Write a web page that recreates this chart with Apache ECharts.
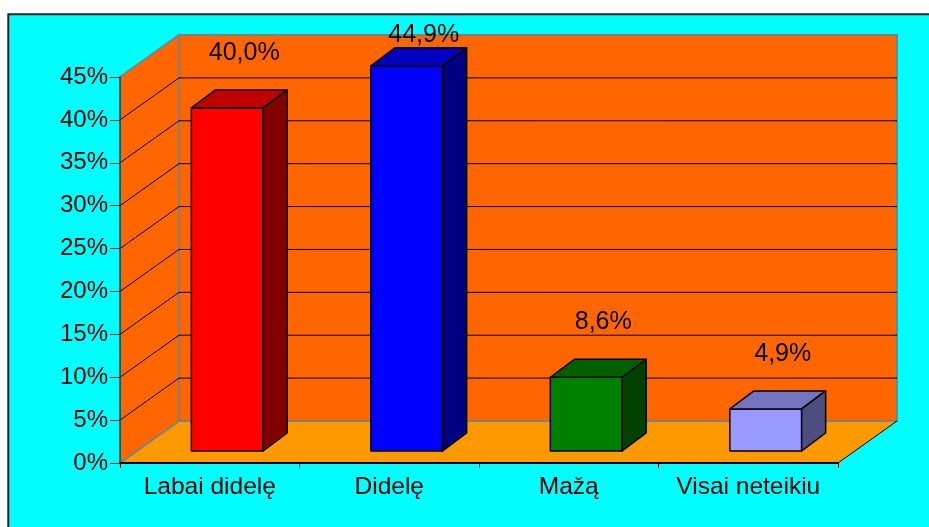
<!DOCTYPE html>
<html>
<head>
<meta charset="utf-8">
<script src="https://cdn.jsdelivr.net/npm/echarts@6/dist/echarts.min.js"></script>
<style>
html,body{margin:0;padding:0;background:#ffffff;}
#chart{width:929px;height:527px;}
</style>
</head>
<body>
<div id="chart"></div>
<script>
// ---- data ----
const categories = ['Labai didelę', 'Didelę', 'Mažą', 'Visai neteikiu'];
const values = [40.0, 44.9, 8.6, 4.9];
const yTicks = [0, 5, 10, 15, 20, 25, 30, 35, 40, 45];

// ---- styles ----
const frontColors = ['#FF0000', '#0000FF', '#008000', '#9999FF'];
const topColors   = ['#C00000', '#0000C0', '#006000', '#7373BF'];
const sideColors  = ['#800000', '#000080', '#004000', '#4D4D80'];
const FONT = 'Liberation Sans, Arial, sans-serif';
const WALL_DX = 59, WALL_DY = -42;     // wall depth
const BAR_OFF_X = 17.5, BAR_OFF_Y = -12; // bar position inside depth
const BAR_DX = 24, BAR_DY = -18;        // bar depth
const yMax = yTicks[yTicks.length - 1];
const yStep = yTicks[1] - yTicks[0];

function fmt(v) { return v.toFixed(1).replace('.', ',') + '%'; }

function renderBackground(params, api) {
  const cs = params.coordSys;
  const x0 = cs.x, x1 = cs.x + cs.width, yt = cs.y, yb = cs.y + cs.height;
  const children = [];
  children.push({type: 'polygon', shape: {points: [[x0, yb], [x1, yb], [x1 + WALL_DX, yb + WALL_DY], [x0 + WALL_DX, yb + WALL_DY]]},
    style: {fill: '#FF9900', stroke: null}});
  children.push({type: 'polygon', shape: {points: [[x0 + WALL_DX, yt + WALL_DY], [x1 + WALL_DX, yt + WALL_DY], [x1 + WALL_DX, yb + WALL_DY], [x0 + WALL_DX, yb + WALL_DY]]},
    style: {fill: '#FF6600', stroke: '#808080', lineWidth: 2}});
  children.push({type: 'polygon', shape: {points: [[x0, yb], [x0, yt], [x0 + WALL_DX, yt + WALL_DY], [x0 + WALL_DX, yb + WALL_DY]]},
    style: {fill: '#FF6600', stroke: '#808080', lineWidth: 2}});
  yTicks.forEach(function (v) {
    if (v === 0 || v === yMax) return;
    const y = api.coord([0, v])[1];
    children.push({type: 'line', shape: {x1: x0, y1: y, x2: x0 + WALL_DX, y2: y + WALL_DY}, style: {stroke: '#000', lineWidth: 1}});
    children.push({type: 'line', shape: {x1: x0 + WALL_DX, y1: y + WALL_DY, x2: x1 + WALL_DX, y2: y + WALL_DY}, style: {stroke: '#000', lineWidth: 1}});
  });
  children.push({type: 'line', shape: {x1: x1, y1: yb, x2: x1 + WALL_DX, y2: yb + WALL_DY}, style: {stroke: '#000', lineWidth: 1}});
  return {type: 'group', children: children};
}

function renderBar(params, api) {
  const i = api.value(0), v = api.value(1);
  const base = api.coord([i, 0]);
  const topP = api.coord([i, v]);
  const band = api.size([1, 0])[0];
  const w = band * 0.4;
  const cx = base[0] + BAR_OFF_X;
  const y0 = base[1] + BAR_OFF_Y;
  const y1 = topP[1] + BAR_OFF_Y;
  const xl = cx - w / 2, xr = cx + w / 2;
  const stroke = {stroke: '#000', lineWidth: 1.5, lineJoin: 'round'};
  const wallTop = params.coordSys.y + WALL_DY;
  const labelY = Math.max(y1 + BAR_DY - 37, wallTop);
  return {type: 'group', children: [
    {type: 'polygon', shape: {points: [[xl, y1], [xr, y1], [xr, y0], [xl, y0]]},
      style: Object.assign({fill: frontColors[i]}, stroke)},
    {type: 'polygon', shape: {points: [[xl, y1], [xr, y1], [xr + BAR_DX, y1 + BAR_DY], [xl + BAR_DX, y1 + BAR_DY]]},
      style: Object.assign({fill: topColors[i]}, stroke)},
    {type: 'polygon', shape: {points: [[xr, y1], [xr + BAR_DX, y1 + BAR_DY], [xr + BAR_DX, y0 + BAR_DY], [xr, y0]]},
      style: Object.assign({fill: sideColors[i]}, stroke)},
    {type: 'text', style: {text: fmt(v), x: cx + 17, y: labelY, fill: '#000',
      font: '25px ' + FONT, align: 'center', verticalAlign: 'middle'}}
  ]};
}

const chart = echarts.init(document.getElementById('chart'), null, {renderer: 'canvas'});
chart.setOption({
  backgroundColor: '#ffffff',
  animation: false,
  graphic: [{
    type: 'rect', z: -10, silent: true,
    shape: {x: 8.3, y: 14.3, width: 1000, height: 600},
    style: {fill: '#00FFFF', stroke: '#262626', lineWidth: 2}
  }],
  grid: {left: 120, right: 91, top: 77, bottom: 64, containLabel: false},
  xAxis: {
    type: 'category', data: categories, z: 10,
    axisLine: {lineStyle: {color: '#000', width: 2}},
    axisTick: {show: true, interval: 0, length: 5, lineStyle: {color: '#000', width: 1}},
    axisLabel: {color: '#000', fontSize: 24.5, fontFamily: FONT, margin: 12, interval: 0, hideOverlap: false}
  },
  yAxis: {
    type: 'value', min: 0, max: yMax, interval: yStep, z: 10,
    axisLine: {show: true, lineStyle: {color: '#333', width: 1.5}},
    axisTick: {show: true, length: 10, lineStyle: {color: '#333', width: 1}},
    splitLine: {show: false},
    axisLabel: {color: '#000', fontSize: 24, fontFamily: FONT, margin: 12, formatter: '{value}%'}
  },
  series: [
    {type: 'custom', z: 1, coordinateSystem: 'cartesian2d', renderItem: renderBackground,
      data: [[0, 0]], silent: true, clip: false},
    {type: 'custom', z: 3, coordinateSystem: 'cartesian2d', renderItem: renderBar,
      data: values.map(function (v, i) { return [i, v]; }), clip: false}
  ]
});
</script>
</body>
</html>
